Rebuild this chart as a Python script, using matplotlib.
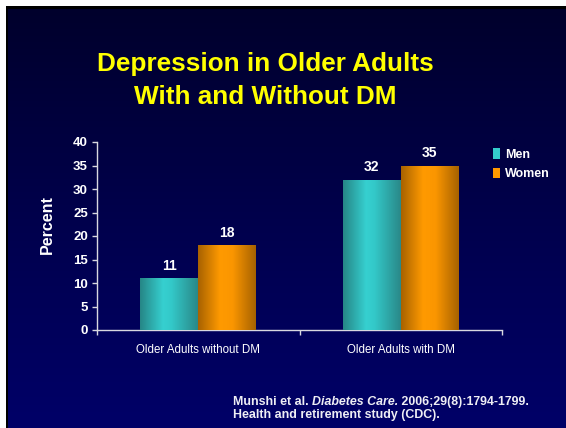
import matplotlib
matplotlib.use("Agg")
import matplotlib.pyplot as plt
import numpy as np
from matplotlib.colors import LinearSegmentedColormap
from matplotlib.patches import Patch

plt.rcParams['font.family'] = ['Liberation Sans', 'DejaVu Sans']

categories = ["Older Adults without DM", "Older Adults with DM"]
men = [11, 32]
women = [18, 35]
yticks = [0, 5, 10, 15, 20, 25, 30, 35, 40]

W, H = 566, 428
fig = plt.figure(figsize=(W / 100, H / 100), dpi=100, facecolor="white")

# slide background in pixel units: dark-to-blue vertical gradient,
# with a thin black edge along the left and top
bg = fig.add_axes([0, 0, 1, 1])
bg.set_axis_off()
grad = np.linspace(0, 1, 256).reshape(-1, 1)
bg_cmap = LinearSegmentedColormap.from_list("slide", ["#00002c", "#00004c", "#000068"])
bg.imshow(grad, aspect="auto", cmap=bg_cmap, extent=[8, W, 0, H - 9], origin="upper",
          zorder=1)
bg.add_patch(plt.Rectangle((6, 0), 2, H - 6, color="black", lw=0, zorder=2))
bg.add_patch(plt.Rectangle((6, H - 9), W - 6, 3, color="black", lw=0, zorder=2))
bg.set_xlim(0, W)
bg.set_ylim(0, H)

fig.text(265 / W, 1 - 71 / H, "Depression in Older Adults", color="#ffff00",
         fontsize=18.8, fontweight="bold", ha="center", va="baseline")
fig.text(265 / W, 1 - 104 / H, "With and Without DM", color="#ffff00",
         fontsize=18.8, fontweight="bold", ha="center", va="baseline")

ax = fig.add_axes([97 / W, 1 - 330 / H, 405 / W, 188 / H])
ax.patch.set_alpha(0)
x = np.arange(len(categories))
bw = 0.286
men_bars = ax.bar(x - bw / 2, men, bw, color="#33cccc", label="Men", zorder=2)
women_bars = ax.bar(x + bw / 2, women, bw, color="#ff9900", label="Women", zorder=2)

# horizontal shading across each bar
teal = LinearSegmentedColormap.from_list("teal", [(0, "#268686"), (0.4, "#36d0d0"),
                                                  (0.55, "#33c8c8"), (1, "#2a8888")])
orange = LinearSegmentedColormap.from_list("orng", [(0, "#a86200"), (0.38, "#ff9a00"),
                                                    (0.6, "#fb9600"), (1, "#a66200")])
hgrad = np.linspace(0, 1, 128).reshape(1, -1)
for bars, cm in ((men_bars, teal), (women_bars, orange)):
    for b in bars:
        x0, y0 = b.get_x(), b.get_y()
        im = ax.imshow(hgrad, cmap=cm, aspect="auto", zorder=3,
                       extent=[x0, x0 + b.get_width(), y0, y0 + b.get_height()])
        im.set_clip_path(b)

ax.bar_label(men_bars, padding=4, color="white", fontsize=10, fontweight="bold")
ax.bar_label(women_bars, padding=4, color="white", fontsize=10, fontweight="bold")

ax.set_xlim(-0.5, len(categories) - 0.5)
ax.set_ylim(0, 40)
ax.set_yticks(yticks)
ax.set_xticks(np.arange(len(categories) + 1) - 0.5)
ax.set_xticklabels([])
ax.set_xticks(x, minor=True)
ax.set_xticklabels(categories, minor=True)
axis_col = "#d8d8e0"
ax.tick_params(axis="y", colors=axis_col, labelcolor="white", labelsize=9.5,
               length=3.5, width=1, pad=3)
ax.tick_params(axis="x", which="major", colors=axis_col, length=3.5, width=1)
ax.tick_params(axis="x", which="minor", length=0, labelcolor="white",
               labelsize=8.3, pad=10)
for lbl in ax.get_yticklabels():
    lbl.set_fontweight("bold")
for side in ("top", "right"):
    ax.spines[side].set_visible(False)
for side in ("left", "bottom"):
    ax.spines[side].set_color(axis_col)
    ax.spines[side].set_linewidth(1)
ax.set_ylabel("Percent", color="white", fontsize=11.5, fontweight="bold")
ax.yaxis.set_label_coords(-0.104, 0.559)

handles = [Patch(facecolor="#33cccc", label="Men"), Patch(facecolor="#ff9900", label="Women")]
leg = fig.legend(handles=handles, loc="upper left", bbox_to_anchor=(482 / W, 1 - 137 / H),
                 frameon=False, handlelength=0.55, handleheight=0.9, handletextpad=0.4,
                 labelspacing=0.55, prop={"weight": "bold", "size": 9})
for t in leg.get_texts():
    t.set_color("white")

# citation, with the journal name in italics
fig.canvas.draw()
r = fig.canvas.get_renderer()
cite_kw = dict(color="#eeeef4", fontsize=8.9, fontweight="bold", va="baseline")
xpos = 233
for part, style in (("Munshi et al. ", "normal"), ("Diabetes Care.", "italic"),
                    (" 2006;29(8):1794-1799.", "normal")):
    t = fig.text(xpos / W, 1 - 405 / H, part, fontstyle=style, **cite_kw)
    xpos += t.get_window_extent(r).width
fig.text(233 / W, 1 - 418 / H, "Health and retirement study (CDC).", **cite_kw)

fig.savefig("out.png", dpi=100, facecolor="white")
